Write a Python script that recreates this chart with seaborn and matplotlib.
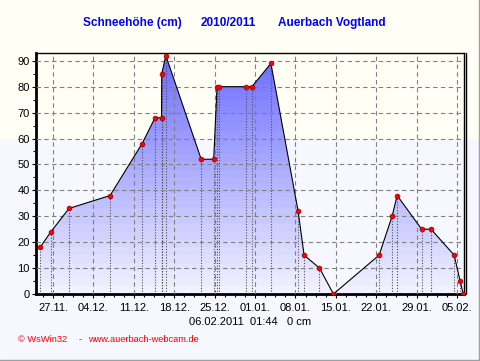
import matplotlib
matplotlib.use("Agg")
import matplotlib.pyplot as plt
import matplotlib.dates as mdates
from matplotlib.ticker import MultipleLocator, FixedLocator
from matplotlib.lines import Line2D
from matplotlib.patches import Rectangle
import seaborn as sns
import numpy as np
import pandas as pd

# ---------------- data ----------------
times = [
    "2010-11-24 18:00", "2010-11-26 15:00", "2010-11-29 18:00", "2010-12-06 21:00",
    "2010-12-12 10:00", "2010-12-14 16:00", "2010-12-15 19:00", "2010-12-15 20:00",
    "2010-12-16 13:00", "2010-12-22 16:00", "2010-12-24 20:00", "2010-12-25 10:00",
    "2010-12-25 18:00", "2010-12-30 10:00", "2010-12-31 11:00", "2011-01-03 18:00",
    "2011-01-08 11:00", "2011-01-09 12:00", "2011-01-12 04:00", "2011-01-14 14:00",
    "2011-01-22 12:00", "2011-01-24 18:00", "2011-01-25 15:00", "2011-01-29 21:00",
    "2011-01-31 12:00", "2011-02-04 12:00", "2011-02-05 13:00", "2011-02-06 01:44",
]
snow_cm = [18, 24, 33, 38, 58, 68, 68, 85, 92, 52, 52, 80, 80, 80, 80, 89,
           32, 15, 10, 0, 15, 30, 38, 25, 25, 15, 5, 0]

tick_dates = ["2010-11-27", "2010-12-04", "2010-12-11", "2010-12-18", "2010-12-25",
              "2011-01-01", "2011-01-08", "2011-01-15", "2011-01-22", "2011-01-29",
              "2011-02-05"]
tick_labels = ["27.11.", "04.12.", "11.12.", "18.12.", "25.12.", "01.01.",
               "08.01.", "15.01.", "22.01.", "29.01.", "05.02."]
y_ticks = [0, 10, 20, 30, 40, 50, 60, 70, 80, 90]

title_parts = ["Schneehöhe (cm)", "2010/2011", "Auerbach Vogtland"]
subtitle = "06.02.2011  01:44   0 cm"
footer_parts = ["© WsWin32", "-", "www.auerbach-webcam.de"]

# ---------------- style ----------------
sns.set_style("ticks")
plt.rcParams["font.family"] = ["Liberation Sans", "DejaVu Sans"]

W, H = 481, 361
fig = plt.figure(figsize=(W / 100, H / 100), dpi=100, facecolor="#FFFFF5")
fig.add_artist(Rectangle((0, 0), 1, 1 - 139 / H, transform=fig.transFigure,
                         facecolor="#F7F7FF", edgecolor="none", zorder=-10))

ax = fig.add_axes([36 / W, 1 - 294 / H, (464 - 36) / W, (294 - 53) / H])
ax.set_facecolor("none")

df = pd.DataFrame({"time": pd.to_datetime(times), "snow": snow_cm})

# gradient fill clipped to the area under the curve
fill = ax.fill_between(df["time"], 0, df["snow"], facecolor="none", edgecolor="none")
clip = fill.get_paths()[0]
band_h = 3
for lo in np.arange(0, 93, band_h):
    v = lo + band_h / 2
    c = max(0, 243 - 1.47 * v) / 255
    band = ax.axhspan(lo, lo + band_h, facecolor=(c, c, 1.0), edgecolor="none", zorder=1)
    band.set_clip_path(clip, ax.transData)

# dotted drop lines
ax.vlines(df["time"], 0, df["snow"], colors="#505050", linestyles=(0, (1, 1.5)),
          linewidth=0.8, zorder=2)

sns.lineplot(data=df, x="time", y="snow", color="black", linewidth=0.8,
             estimator=None, sort=False, ax=ax, zorder=3)
sns.scatterplot(data=df, x="time", y="snow", color="#FF0000", edgecolor="#8B0000",
                s=12, linewidth=0.5, ax=ax, zorder=4)

ax.set_xlim(pd.Timestamp("2010-11-24 01:00"), pd.Timestamp("2011-02-06 05:00"))
ax.set_ylim(0, 93)
ax.set_xticks(pd.to_datetime(tick_dates))
ax.set_xticklabels(tick_labels)
ax.set_yticks(y_ticks)
ax.yaxis.set_minor_locator(MultipleLocator(5))
minor = mdates.date2num(pd.date_range("2010-11-25 06:00", "2011-02-06 05:00", freq="42h"))
ax.xaxis.set_minor_locator(FixedLocator(minor))
ax.set_xlabel("")
ax.set_ylabel("")

ax.set_axisbelow(False)
ax.grid(True, which="major", color="#808080", linestyle=(0, (4, 3)), linewidth=0.8)
ax.tick_params(axis="both", which="both", direction="out", colors="black",
               width=0.8, labelsize=8)
ax.tick_params(axis="both", which="major", length=3)
ax.tick_params(axis="both", which="minor", length=2.5)
ax.tick_params(axis="x", pad=3.5)
ax.tick_params(axis="y", pad=1.5)

for s in ["left", "bottom"]:
    ax.spines[s].set_linewidth(2)
for s in ["top", "right"]:
    ax.spines[s].set_linewidth(1)
for s in ax.spines.values():
    s.set_color("black")
ax.add_line(Line2D([1 + 2.5 / 428] * 2, [0, 1], transform=ax.transAxes,
                   color="black", linewidth=1, clip_on=False))

# figure border
fig.add_artist(Line2D([479.5 / W] * 2, [0, 1], transform=fig.transFigure,
                      color="#A0A0A0", linewidth=1))
fig.add_artist(Line2D([0, 1], [1 - 359.5 / H] * 2, transform=fig.transFigure,
                      color="#A0A0A0", linewidth=1))

def fx(x):
    return x / W

def fy(y):
    return 1 - y / H

tfont = dict(fontsize=8.5, fontweight="bold", color="#0000FF", va="center", ha="center")
fig.text(fx(132), fy(23), title_parts[0], **tfont)
fig.text(fx(228), fy(23), title_parts[1], **tfont)
fig.text(fx(332), fy(23), title_parts[2], **tfont)

fig.text(fx(250), fy(322), subtitle, fontsize=8, color="black", ha="center", va="center")

ffont = dict(fontsize=6.7, color="#FF0000", va="center", ha="left")
fig.text(fx(18), fy(340), footer_parts[0], **ffont)
fig.text(fx(79), fy(340), footer_parts[1], **ffont)
fig.text(fx(88), fy(340), footer_parts[2], **ffont)

fig.savefig("out.png", dpi=100, facecolor=fig.get_facecolor())
